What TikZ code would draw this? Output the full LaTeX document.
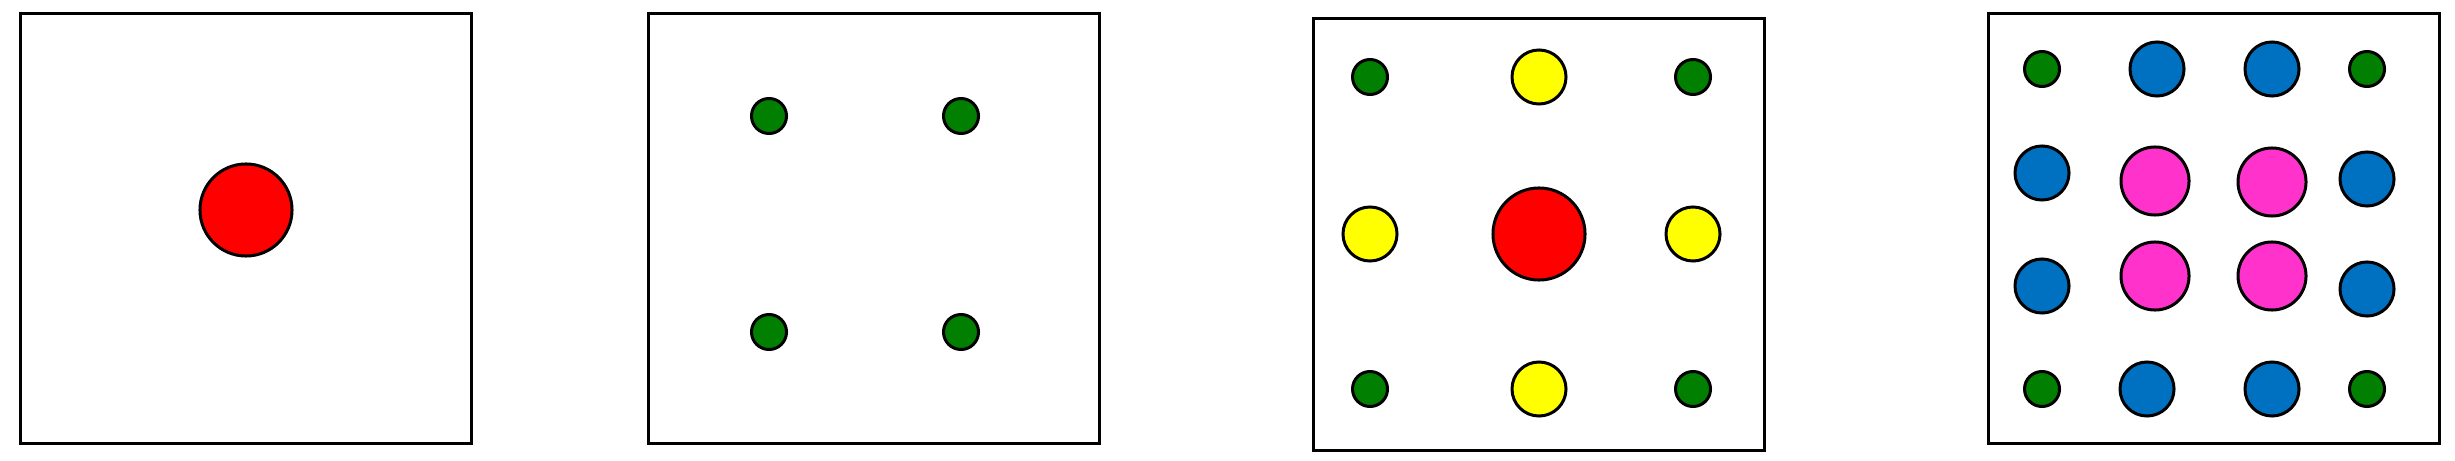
\documentclass[tikz,border=0pt]{standalone}
\usetikzlibrary{positioning}
\definecolor{ionred}{HTML}{FF0000}
\definecolor{iongreen}{HTML}{007F00}
\definecolor{ionyellow}{HTML}{FFFF00}
\definecolor{ionblue}{HTML}{0070C0}
\definecolor{ionpink}{HTML}{FF33CC}
\tikzset{
  cell/.style={draw=black,line width=0.03cm},
  ion/.style={circle,draw=black,line width=0.03cm,inner sep=0pt},
  ionS/.style={ion,fill=iongreen,minimum size=0.35cm},
  ionM/.style={ion,fill=ionyellow,minimum size=0.54cm},
  ionB/.style={ion,fill=ionblue,minimum size=0.54cm},
  ionP/.style={ion,fill=ionpink,minimum size=0.68cm},
  ionL/.style={ion,fill=ionred,minimum size=0.92cm},
}
\begin{document}
\begin{tikzpicture}[x=0.01cm,y=-0.01cm]
\useasboundingbox (0,0) rectangle (2455,461);
%
\draw[cell] (20.5,13.5) rectangle (471.5,443.5);
\node[ionL] (aC) at (246,210) {};
%
\draw[cell] (648.5,13.5) rectangle (1099.5,443.5);
\node[ionS] (bA) at (769,116) {};
\node[ionS] (bB) at (961,116) {};
\node[ionS] (bC) at (769,332) {};
\node[ionS] (bD) at (961,332) {};
%
\draw[cell] (1313.5,18.5) rectangle (1764.5,450.5);
\foreach \x/\y [count=\i] in {1370/77,1693/77,1370/389,1693/389}
  \node[ionS] (cS\i) at (\x,\y) {};
\foreach \x/\y [count=\i] in {1539/77,1370/234,1693/234,1539/389}
  \node[ionM] (cM\i) at (\x,\y) {};
\node[ionL] (cC) at (1539,234) {};
%
\draw[cell] (1988.5,13.5) rectangle (2439.5,443.5);
\foreach \x/\y [count=\i] in {2042/69,2367/69,2042/389,2367/389}
  \node[ionS] (dS\i) at (\x,\y) {};
\foreach \x/\y [count=\i] in {2157/69,2272/69,2042/173,2042/286,2367/179,2367/289,2147/389,2272/389}
  \node[ionB] (dB\i) at (\x,\y) {};
\foreach \x/\y [count=\i] in {2155/181,2272/182,2155/276,2272/276}
  \node[ionP] (dP\i) at (\x,\y) {};
\end{tikzpicture}
\end{document}
